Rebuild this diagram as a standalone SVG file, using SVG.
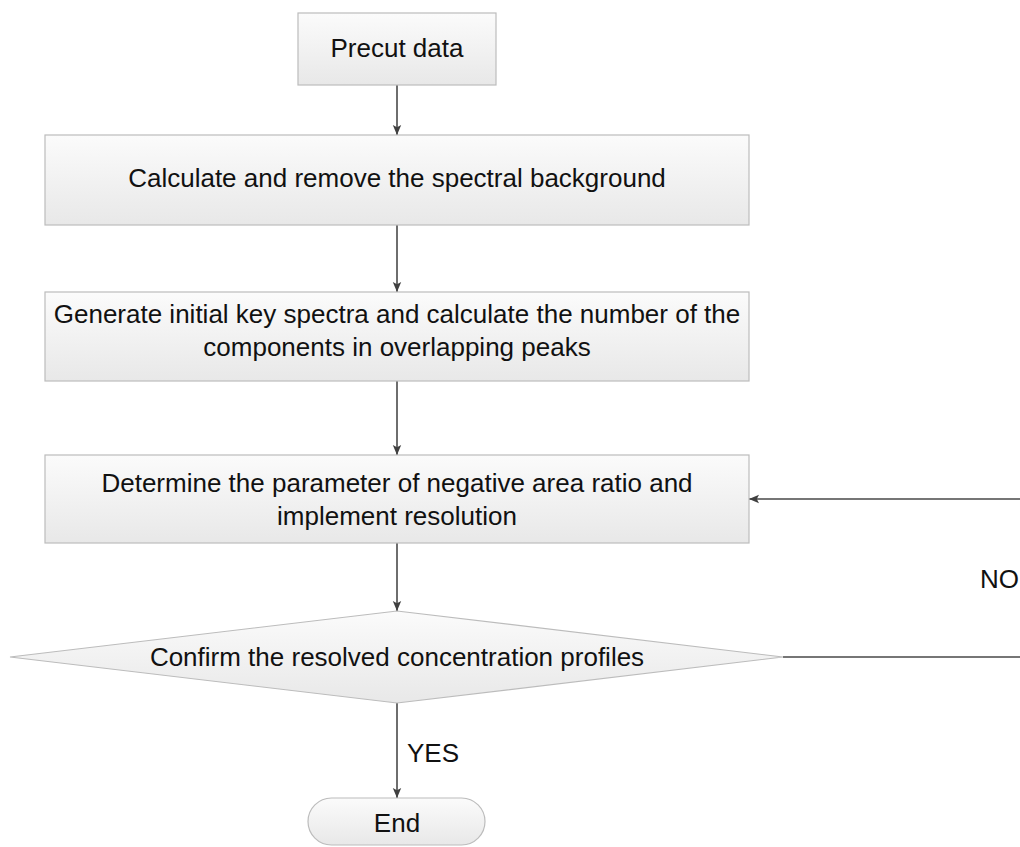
<svg xmlns="http://www.w3.org/2000/svg" width="1020" height="847" viewBox="0 0 1020 847">
  <defs>
    <linearGradient id="boxFill" x1="0" y1="0" x2="0" y2="1">
      <stop offset="0" stop-color="#fbfbfb"/>
      <stop offset="1" stop-color="#e8e8e8"/>
    </linearGradient>
    <marker id="arrow" viewBox="0 0 10 10" refX="10" refY="5" markerWidth="10" markerHeight="10" markerUnits="userSpaceOnUse" orient="auto">
      <path d="M0,0.8 L10,5 L0,9.2 L2.2,5 Z" fill="#404040"/>
    </marker>
    <style>
      .box { fill: url(#boxFill); stroke: #bcbcbc; stroke-width: 1.2; }
      .label { font-family: "Liberation Sans", Arial, sans-serif; font-size: 26px; fill: #111; text-anchor: middle; }
      .tag { font-family: "Liberation Sans", Arial, sans-serif; font-size: 26px; fill: #111; }
      .edge { fill: none; stroke: #4a4a4a; stroke-width: 1.6; }
    </style>
  </defs>
  <rect width="1020" height="847" fill="#ffffff"/>

  <g id="connectors">
    <line class="edge" x1="397" y1="85" x2="397" y2="135" marker-end="url(#arrow)"/>
    <line class="edge" x1="397" y1="225" x2="397" y2="292" marker-end="url(#arrow)"/>
    <line class="edge" x1="397" y1="381" x2="397" y2="455" marker-end="url(#arrow)"/>
    <line class="edge" x1="397" y1="543" x2="397" y2="611" marker-end="url(#arrow)"/>
    <line class="edge" x1="397" y1="703" x2="397" y2="798" marker-end="url(#arrow)"/>
    <!-- NO loop back to the resolution step, routed beyond the right edge -->
    <polyline class="edge" points="783,657 1030,657 1030,499 749,499" marker-end="url(#arrow)"/>
    <text class="tag" x="407" y="762">YES</text>
    <text class="tag" x="980" y="588">NO</text>
  </g>

  <g id="precut">
    <rect class="box" x="298" y="13" width="198" height="72"/>
    <text class="label" x="397" y="57">Precut data</text>
  </g>

  <g id="background">
    <rect class="box" x="45" y="135" width="704" height="90"/>
    <text class="label" x="397" y="187">Calculate and remove the spectral background</text>
  </g>

  <g id="key-spectra">
    <rect class="box" x="45" y="292" width="704" height="89"/>
    <text class="label" x="397" y="323">Generate initial key spectra and calculate the number of the</text>
    <text class="label" x="397" y="356">components in overlapping peaks</text>
  </g>

  <g id="resolution">
    <rect class="box" x="45" y="455" width="704" height="88"/>
    <text class="label" x="397" y="492">Determine the parameter of negative area ratio and</text>
    <text class="label" x="397" y="525">implement resolution</text>
  </g>

  <g id="confirm">
    <polygon class="box" points="10,657 397,611 783,657 397,703"/>
    <text class="label" x="397" y="666">Confirm the resolved concentration profiles</text>
  </g>

  <g id="end">
    <rect class="box" x="308" y="798" width="177" height="47" rx="23.5" ry="23.5"/>
    <text class="label" x="397" y="832">End</text>
  </g>
</svg>
